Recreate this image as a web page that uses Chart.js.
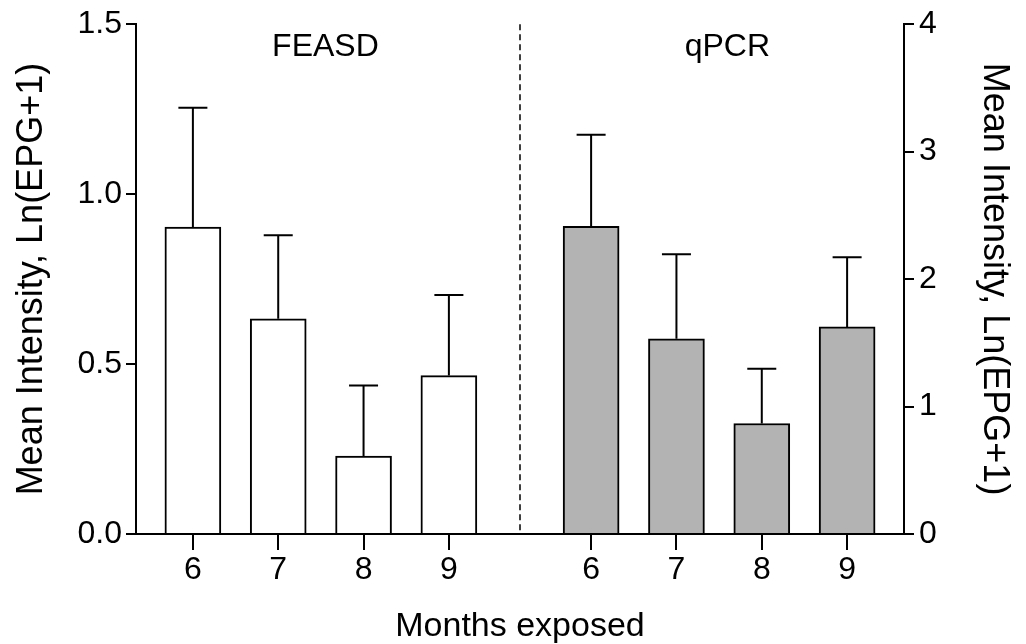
<!DOCTYPE html>
<html>
<head>
<meta charset="utf-8">
<script src="https://cdn.jsdelivr.net/npm/chart.js@4.4.1/dist/chart.umd.min.js"></script>
<style>
    html, body { margin: 0; padding: 0; background: #fff; }
    #contenedor { width: 1026px; height: 644px; }
</style>
</head>
<body>
<div id="contenedor"><canvas id="chartIntensidad"></canvas></div>
<script>
const meses = ['6', '7', '8', '9'];
const grupos = ['FEASD', 'qPCR'];
const mediaFeasd = [0.903, 0.633, 0.229, 0.466];
const errorFeasd = [0.351, 0.246, 0.208, 0.237];
const mediaQpcr = [2.414, 1.531, 0.867, 1.625];
const errorQpcr = [0.719, 0.664, 0.430, 0.547];

document.addEventListener("DOMContentLoaded", () => {
    Chart.defaults.font.family = "'Liberation Sans', Arial, sans-serif";
    Chart.defaults.color = '#000';
    crearGraficoIntensidad('chartIntensidad');
});

// barras de error (solo hacia arriba, con tope)
const pluginErrores = {
    id: 'errores',
    beforeDatasetsDraw(chart) {
        // linea punteada que separa los dos metodos
        const { ctx, chartArea, scales } = chart;
        const xSep = scales.x.getPixelForValue(4.5);
        ctx.save();
        ctx.strokeStyle = '#000';
        ctx.lineWidth = 1.5;
        ctx.setLineDash([6, 4]);
        ctx.beginPath();
        ctx.moveTo(xSep, chartArea.top);
        ctx.lineTo(xSep, chartArea.bottom);
        ctx.stroke();
        ctx.restore();
    },
    afterDatasetsDraw(chart) {
        const { ctx } = chart;
        ctx.save();
        ctx.strokeStyle = '#000';
        ctx.lineWidth = 2;
        chart.data.datasets.forEach((ds, i) => {
            const meta = chart.getDatasetMeta(i);
            const escala = chart.scales[ds.yAxisID];
            meta.data.forEach((barra, j) => {
                const yErr = escala.getPixelForValue(ds.data[j].y + ds.errores[j]);
                ctx.beginPath();
                ctx.moveTo(barra.x, barra.y);
                ctx.lineTo(barra.x, yErr);
                ctx.moveTo(barra.x - 14.5, yErr);
                ctx.lineTo(barra.x + 14.5, yErr);
                ctx.stroke();
            });
        });
        ctx.restore();
    },
    afterDraw(chart) {
        const { ctx, chartArea, scales } = chart;
        ctx.save();
        ctx.fillStyle = '#000';
        ctx.font = "32px 'Liberation Sans', Arial, sans-serif";
        ctx.textAlign = 'center';
        ctx.textBaseline = 'alphabetic';
        ctx.fillText(grupos[0], scales.x.getPixelForValue(2.22), chartArea.top + 32);
        ctx.fillText(grupos[1], scales.x.getPixelForValue(6.93), chartArea.top + 32);
        ctx.restore();
    }
};

function crearGraficoIntensidad(id) {
    const posFeasd = meses.map((_, i) => 2 / 3 + i);
    const posQpcr = meses.map((_, i) => 16 / 3 + i);

    new Chart(document.getElementById(id), {
        type: 'bar',
        data: {
            datasets: [{
                label: grupos[0],
                data: mediaFeasd.map((v, i) => ({ x: posFeasd[i], y: v })),
                errores: errorFeasd,
                yAxisID: 'y',
                backgroundColor: '#ffffff',
                borderColor: '#000',
                borderWidth: 2
            }, {
                label: grupos[1],
                data: mediaQpcr.map((v, i) => ({ x: posQpcr[i], y: v })),
                errores: errorQpcr,
                yAxisID: 'y2',
                backgroundColor: '#b3b3b3',
                borderColor: '#000',
                borderWidth: 2
            }]
        },
        options: {
            responsive: true,
            maintainAspectRatio: false,
            animation: false,
            barThickness: 56,
            grouped: false,
            layout: { padding: { top: 22, left: 0, right: 0, bottom: 0 } },
            plugins: { legend: { display: false }, tooltip: { enabled: false } },
            scales: {
                x: {
                    type: 'linear',
                    min: 0,
                    max: 9,
                    offset: false,
                    afterBuildTicks: (eje) => {
                        eje.ticks = [...posFeasd, ...posQpcr].map(v => ({ value: v }));
                    },
                    afterFit: (eje) => { eje.height = 110; },
                    grid: { offset: false, drawOnChartArea: false, tickLength: 16, color: '#000', lineWidth: 2 },
                    border: { color: '#000', width: 2 },
                    ticks: {
                        autoSkip: false,
                        maxRotation: 0,
                        padding: 1,
                        font: { size: 32 },
                        callback: (v, i) => meses[i % meses.length]
                    },
                    title: { display: true, text: 'Months exposed', font: { size: 34, lineHeight: 1 }, padding: 0 }
                },
                y: {
                    position: 'left',
                    min: 0,
                    max: 1.5,
                    afterFit: (eje) => { eje.width = 136; },
                    grid: { drawOnChartArea: false, tickLength: 10, color: '#000', lineWidth: 2 },
                    border: { color: '#000', width: 2 },
                    ticks: { stepSize: 0.5, padding: 4, font: { size: 32 }, callback: v => v.toFixed(1) },
                    title: { display: true, text: 'Mean Intensity, Ln(EPG+1)', font: { size: 36 }, padding: { top: 10, bottom: 0 } }
                },
                y2: {
                    position: 'right',
                    min: 0,
                    max: 4,
                    afterFit: (eje) => { eje.width = 122; },
                    grid: { drawOnChartArea: false, tickLength: 10, color: '#000', lineWidth: 2 },
                    border: { color: '#000', width: 2 },
                    ticks: { stepSize: 1, padding: 5, font: { size: 32 } },
                    title: { display: true, text: 'Mean Intensity, Ln(EPG+1)', font: { size: 36 }, padding: { top: 10, bottom: 0 } }
                }
            }
        },
        plugins: [pluginErrores]
    });
}
</script>
</body>
</html>
